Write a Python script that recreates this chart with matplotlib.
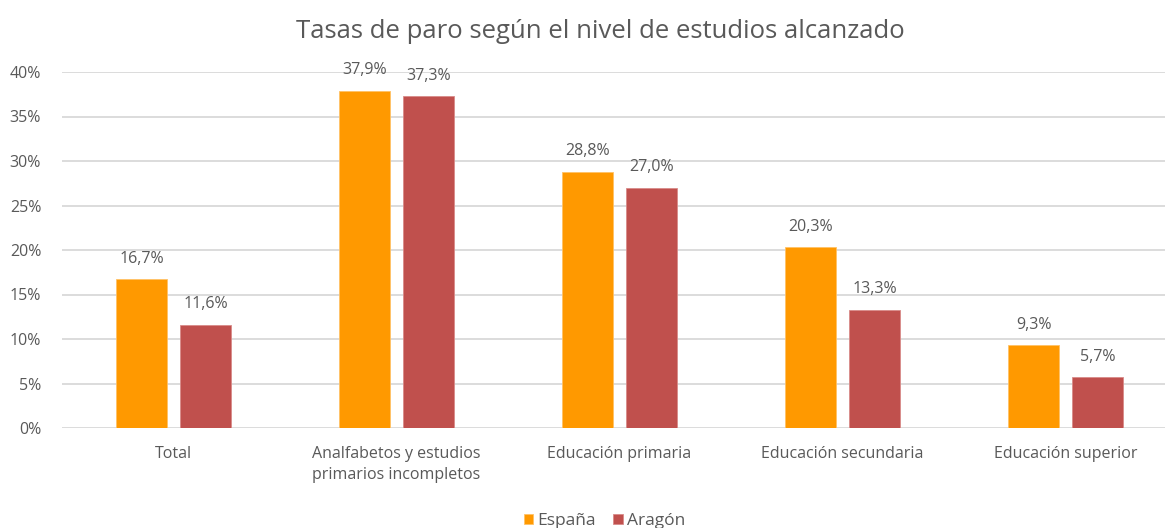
import matplotlib.pyplot as plt
import numpy as np

plt.rcParams['font.family'] = ['Open Sans', 'DejaVu Sans']

categories = ['Total', 'Analfabetos y estudios\nprimarios incompletos', 'Educación primaria',
              'Educación secundaria', 'Educación superior']
espana = [16.7, 37.9, 28.8, 20.3, 9.3]
aragon = [11.6, 37.3, 27.0, 13.3, 5.7]
yticks = [0, 5, 10, 15, 20, 25, 30, 35, 40]

grey = '#595959'
c_esp = '#FF9900'
c_ara = '#C0504D'

fig = plt.figure(figsize=(11.65, 5.28), dpi=100)
ax = fig.add_axes([62 / 1165, 1 - 428 / 528, 1 - 62 / 1165, 356 / 528])

x = np.arange(len(categories))
w = 0.229
b1 = ax.bar(x - 0.143, espana, w, color=c_esp, edgecolor='#FFC266', linewidth=0.6, label='España', zorder=3)
b2 = ax.bar(x + 0.143, aragon, w, color=c_ara, edgecolor='#D98B89', linewidth=0.6, label='Aragón', zorder=3)

for bars, vals in ((b1, espana), (b2, aragon)):
    for r, v in zip(bars, vals):
        ax.text(r.get_x() + r.get_width() / 2, v + 1.4, ('%.1f%%' % v).replace('.', ','),
                ha='center', va='bottom', fontsize=11.5, color=grey)

ax.set_ylim(0, 40)
ax.set_xlim(-0.5, 4.5 - 12 / 223)
ax.set_yticks(yticks)
ax.set_yticklabels(['%d%%' % t for t in yticks], fontsize=11.5, color=grey)
ax.set_xticks(x)
ax.set_xticklabels(categories, fontsize=11.5, color=grey, linespacing=1.45)
ax.tick_params(length=0)
ax.tick_params(axis='x', pad=13)
ax.tick_params(axis='y', pad=15)
ax.grid(axis='y', color='#D9D9D9', linewidth=1.3, zorder=0)
for s in ax.spines.values():
    s.set_visible(False)

fig.text(0.515, 0.94, 'Tasas de paro según el nivel de estudios alcanzado',
         ha='center', va='center', fontsize=18.5, color=grey)
fig.legend(loc='center', bbox_to_anchor=(0.519, 0.013), ncol=2, frameon=False, fontsize=12.5,
           handlelength=0.55, handleheight=0.55, handletextpad=0.25, columnspacing=1.0,
           labelcolor=grey)

fig.savefig('out.png', dpi=100)
